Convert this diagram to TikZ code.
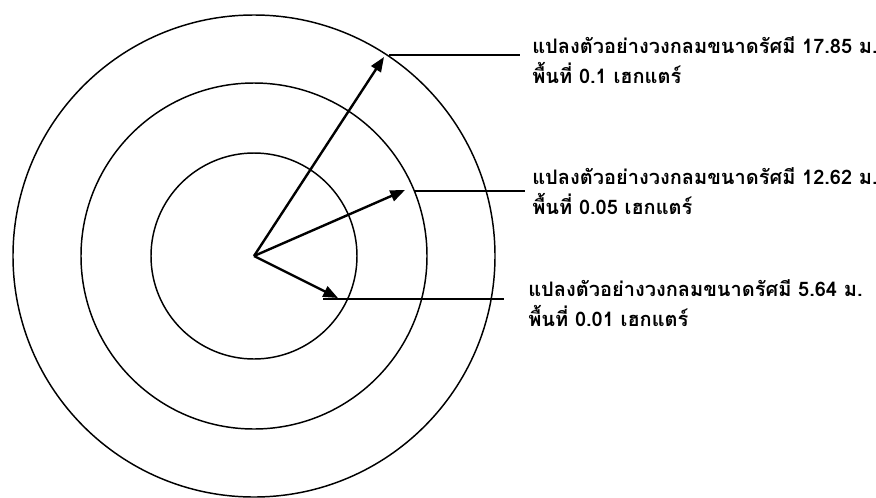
\documentclass[tikz,border=0pt]{standalone}
\usepackage{fontspec}
\newfontfamily\thaifont[Script=Thai]{Loma}
\usetikzlibrary{arrows.meta}

\begin{document}
\begin{tikzpicture}[x=0.75pt, y=-0.75pt,
    ring/.style={draw, circle, line width=1.1pt, inner sep=0pt},
    radius arrow/.style={line width=1.8pt, -{Triangle[length=11pt, width=8.5pt]}},
    leader/.style={line width=1pt},
    plot label/.style={anchor=base west, align=left, inner sep=0pt,
                       font=\thaifont\bfseries\fontsize{15}{22.5}\selectfont}]
    \useasboundingbox (0,0) rectangle (876,497);
    % plot centre and the three circular plots
    \coordinate (c) at (254,256);
    \node[ring, minimum size=361.5pt] (outer)  at (c) {};
    \node[ring, minimum size=259.5pt] (middle) at (c) {};
    \node[ring, minimum size=154.5pt] (inner)  at (c) {};
    % radius arrow tips
    \coordinate (t1) at (384,57);
    \coordinate (t2) at (405,190);
    \coordinate (t3) at (338,298);
    \draw[radius arrow] (c) -- (t1);
    \draw[radius arrow] (c) -- (t2);
    \draw[radius arrow] (c) -- (t3);
    % labels (anchored on the baseline of the second line)
    \node[plot label] (lab1) at (532,83)
      {แปลงตัวอย่างวงกลมขนาดรัศมี 17.85 ม.\\พื้นที่ 0.1 เฮกแตร์};
    \node[plot label] (lab2) at (532,214)
      {แปลงตัวอย่างวงกลมขนาดรัศมี 12.62 ม.\\พื้นที่ 0.05 เฮกแตร์};
    \node[plot label] (lab3) at (528,326)
      {แปลงตัวอย่างวงกลมขนาดรัศมี 5.64 ม.\\พื้นที่ 0.01 เฮกแตร์};
    % leader lines
    \coordinate (s1) at (389,55);  \coordinate (e1) at (520,55);
    \coordinate (s2) at (415,191); \coordinate (e2) at (525,191);
    \coordinate (s3) at (323,299); \coordinate (e3) at (504,299);
    \draw[leader] (s1) -- (e1);
    \draw[leader] (s2) -- (e2);
    \draw[leader] (s3) -- (e3);
\end{tikzpicture}
\end{document}
